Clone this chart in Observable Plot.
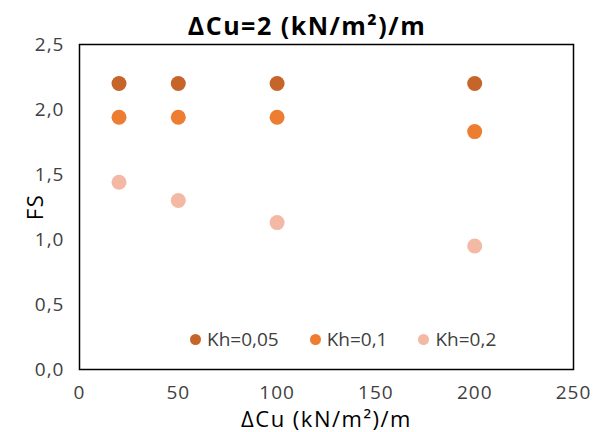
<!DOCTYPE html>
<html>
<head>
<meta charset="utf-8">
<script src="https://cdn.jsdelivr.net/npm/d3@7"></script>
<script src="https://cdn.jsdelivr.net/npm/@observablehq/plot@0.6"></script>
<style>
  html, body { margin: 0; padding: 0; background: #fff; }
  #wrap { position: relative; width: 594px; height: 432px; font-family: "Open Sans", Lato, sans-serif; }
  #title { position: absolute; top: 7px; left: 10px; width: 594px; text-align: center; font-weight: bold; font-size: 25px; letter-spacing: 1.5px; line-height: 36px; color: #000; }
  #legend { position: absolute; top: 326px; left: 190px; display: flex; font-size: 19px; line-height: 26px; color: #404040; }
  #legend .item { display: flex; align-items: center; margin-right: 31px; }
  #legend .sw { width: 11px; height: 11px; border-radius: 50%; margin-right: 6px; }
</style>
</head>
<body>
<div id="wrap">
  <div id="chart"></div>
  <div id="title">ΔCu=2 (kN/m²)/m</div>
  <div id="legend"></div>
</div>
<script>
const xValues = [20, 50, 100, 200];
const seriesNames = ["Kh=0,05", "Kh=0,1", "Kh=0,2"];
const seriesColors = ["#C5652A", "#ED7D31", "#F4B9A5"];
const fsKh005 = [2.2, 2.2, 2.2, 2.2];
const fsKh01 = [1.94, 1.94, 1.94, 1.83];
const fsKh02 = [1.44, 1.30, 1.13, 0.95];
const xTicks = [0, 50, 100, 150, 200, 250];
const yTicks = [0, 0.5, 1.0, 1.5, 2.0, 2.5];

const allSeries = [fsKh005, fsKh01, fsKh02];
const data = [];
allSeries.forEach((vals, i) => vals.forEach((v, j) => data.push({x: xValues[j], y: v, s: seriesNames[i]})));

const fmtY = d => d3.format(".1f")(d).replace(".", ",");

const chart = Plot.plot({
  width: 594,
  height: 432,
  marginLeft: 79,
  marginRight: 21,
  marginTop: 44,
  marginBottom: 63,
  style: { fontFamily: "'Open Sans', Lato, sans-serif", fontSize: "19px", color: "#404040", background: "#fff", overflow: "visible" },
  x: { domain: [0, 250] },
  y: { domain: [0, 2.5] },
  color: { domain: seriesNames, range: seriesColors },
  marks: [
    Plot.axisX({ ticks: xTicks, tickSize: 0, tickPadding: 16, label: "ΔCu (kN/m²)/m", labelAnchor: "center", labelOffset: 57, labelArrow: "none", fontSize: 19 }),
    Plot.axisY({ ticks: yTicks, tickFormat: fmtY, tickSize: 0, tickPadding: 15, label: "FS", labelAnchor: "center", labelOffset: 52, labelArrow: "none", fontSize: 19 }),
    Plot.dot(data, { x: "x", y: "y", fill: "s", r: 7.5 }),
    Plot.frame({ stroke: "#000", strokeWidth: 1.5 })
  ]
});
chart.querySelectorAll("[aria-label='x-axis label'] text, [aria-label='y-axis label'] text").forEach(t => { t.setAttribute("fill", "#000"); t.style.fontSize = "22px"; t.style.letterSpacing = "1.5px"; });
chart.querySelectorAll("[aria-label='x-axis tick label'] text, [aria-label='y-axis tick label'] text").forEach(t => { t.style.letterSpacing = "1px"; });
document.getElementById("chart").appendChild(chart);

const legend = document.getElementById("legend");
seriesNames.forEach((n, i) => {
  const item = document.createElement("div");
  item.className = "item";
  const sw = document.createElement("div");
  sw.className = "sw";
  sw.style.background = seriesColors[i];
  const lab = document.createElement("span");
  lab.textContent = n;
  item.appendChild(sw); item.appendChild(lab);
  legend.appendChild(item);
});
</script>
</body>
</html>
